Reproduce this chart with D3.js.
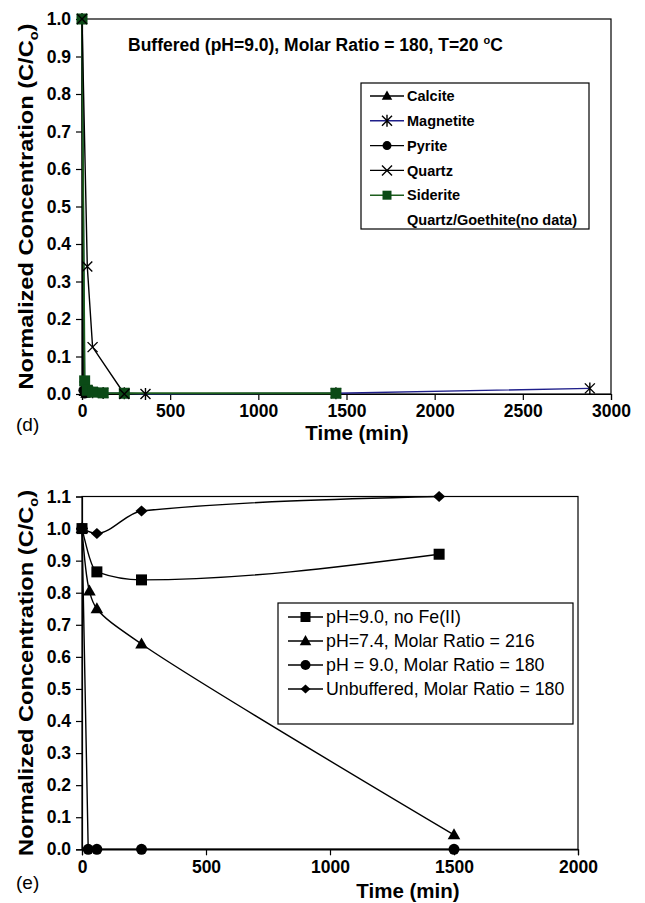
<!DOCTYPE html>
<html><head><meta charset="utf-8">
<script src="https://cdn.jsdelivr.net/npm/d3@7"></script>
<style>
html,body{margin:0;padding:0;background:#fff;}
svg{display:block;font-family:"Liberation Sans",Arial,sans-serif;}
</style></head>
<body>
<svg id="chart" width="645" height="903"></svg>
<script>
// ---------- Panel (d) data ----------
const dTimeCalcite   = [0, 10, 20];
const dCalcite       = [1.0, 0.005, 0.0];
const dTimeMagnetite = [0, 15, 30, 60, 120, 240, 360, 1440, 2880];
const dMagnetite     = [1.0, 0.02, 0.01, 0.005, 0.003, 0.002, 0.0, 0.002, 0.015];
const dTimePyrite    = [0, 5, 15];
const dPyrite        = [1.0, 0.01, 0.0];
const dTimeQuartz    = [0, 30, 60, 240];
const dQuartz        = [1.0, 0.34, 0.125, 0.0];
const dTimeSiderite  = [0, 15, 30, 60, 120, 240, 1440];
const dSiderite      = [1.0, 0.035, 0.01, 0.005, 0.003, 0.002, 0.002];
const dLegendLabels  = ["Calcite", "Magnetite", "Pyrite", "Quartz", "Siderite", "Quartz/Goethite(no data)"];
const dXTicks = [0, 500, 1000, 1500, 2000, 2500, 3000];
const dYTicks = [0, 0.1, 0.2, 0.3, 0.4, 0.5, 0.6, 0.7, 0.8, 0.9, 1.0];

// ---------- Panel (e) data ----------
const eTimeNoFe   = [0, 60, 240, 1440];
const eNoFe       = [1.0, 0.865, 0.84, 0.92];
const eTimePH74   = [0, 30, 60, 240, 1500];
const ePH74       = [1.0, 0.805, 0.75, 0.64, 0.045];
const eTimePH90   = [0, 25, 60, 240, 1500];
const ePH90       = [1.0, 0.0, 0.0, 0.0, 0.0];
const eTimeUnbuf  = [0, 60, 240, 1440];
const eUnbuf      = [1.0, 0.985, 1.055, 1.1];
const eLegendLabels = ["pH=9.0, no Fe(II)", "pH=7.4, Molar Ratio = 216", "pH = 9.0, Molar Ratio = 180", "Unbuffered, Molar Ratio = 180"];
const eXTicks = [0, 500, 1000, 1500, 2000];
const eYTicks = [0, 0.1, 0.2, 0.3, 0.4, 0.5, 0.6, 0.7, 0.8, 0.9, 1.0, 1.1];

const svg = d3.select("#chart");
const zip = (t, v) => t.map((x, i) => ({t: x, v: v[i]}));

// marker path generators
const mk = {
  square: s => `M${-s},${-s}H${s}V${s}H${-s}Z`,
  triangle: s => `M0,${-s*1.1}L${s*1.05},${s*0.75}L${-s*1.05},${s*0.75}Z`,
  circle: s => d3.symbol(d3.symbolCircle, Math.PI*s*s)(),
  diamond: s => `M0,${-s}L${s*1.1},0L0,${s}L${-s*1.1},0Z`,
  xmark: s => `M${-s},${-s}L${s},${s}M${-s},${s}L${s},${-s}`,
  star: s => `M${-s},${-s}L${s},${s}M${-s},${s}L${s},${-s}M0,${-s*1.2}V${s*1.2}`
};

function drawMarker(g, type, size, fill, stroke) {
  const open = (type === "xmark" || type === "star");
  return g.append("path").attr("d", mk[type](size))
    .attr("fill", open ? "none" : fill)
    .attr("stroke", open ? stroke : "none")
    .attr("stroke-width", open ? 1.4 : 0);
}

function panel(cfg) {
  const g = svg.append("g");
  const x = d3.scaleLinear().domain(cfg.xDomain).range([cfg.left, cfg.right]);
  const y = d3.scaleLinear().domain(cfg.yDomain).range([cfg.bottom, cfg.top]);

  g.append("rect").attr("x", cfg.left).attr("y", cfg.top)
    .attr("width", cfg.right - cfg.left).attr("height", cfg.bottom - cfg.top)
    .attr("fill", "none").attr("stroke", "#000").attr("stroke-width", 1.2);

  const xa = g.append("g").attr("transform", `translate(0,${cfg.bottom})`)
    .call(d3.axisBottom(x).tickValues(cfg.xTicks).tickFormat(d3.format("d")).tickSize(6).tickPadding(5));
  const ya = g.append("g").attr("transform", `translate(${cfg.left},0)`)
    .call(d3.axisLeft(y).tickValues(cfg.yTicks).tickFormat(d3.format(".1f")).tickSize(6).tickPadding(5));
  [xa, ya].forEach(a => {
    a.select(".domain").attr("stroke", "#000").attr("stroke-width", 1.2);
    a.selectAll(".tick line").attr("stroke", "#000").attr("stroke-width", 1.2);
    a.selectAll(".tick text").attr("fill", "#000").attr("font-size", 17.5)
      .attr("font-weight", "bold").attr("font-family", "Liberation Sans, Arial, sans-serif");
  });

  cfg.series.forEach(s => {
    const line = d3.line().x(d => x(d.t)).y(d => y(d.v)).curve(s.curve || d3.curveLinear);
    g.append("path").datum(s.data).attr("d", line)
      .attr("fill", "none").attr("stroke", s.lineColor).attr("stroke-width", s.lineWidth || 1.4);
  });
  cfg.series.forEach(s => {
    s.data.forEach(d => {
      drawMarker(g, s.marker, s.size, s.fill, s.markerStroke || "#000")
        .attr("transform", `translate(${x(d.t)},${y(d.v)})`);
    });
  });

  const yl = g.append("text")
    .attr("transform", `translate(${cfg.yLabelX},${(cfg.top + cfg.bottom) / 2}) rotate(-90)`)
    .attr("text-anchor", "middle").attr("font-size", 19.5).attr("font-weight", "bold")
    .attr("textLength", 366).attr("lengthAdjust", "spacingAndGlyphs");
  yl.append("tspan").text("Normalized Concentration (C/C");
  yl.append("tspan").text("o").attr("font-size", 12).attr("dy", 5);
  yl.append("tspan").text(")").attr("dy", -5);

  g.append("text").attr("x", cfg.xLabelX).attr("y", cfg.xLabelY)
    .attr("text-anchor", "middle").attr("font-size", 20.5).attr("font-weight", "bold")
    .text("Time (min)");
  g.append("text").attr("x", 16).attr("y", cfg.letterY)
    .attr("font-size", 19).text(cfg.letter);

  const L = cfg.legend;
  g.append("rect").attr("x", L.x).attr("y", L.y).attr("width", L.w).attr("height", L.h)
    .attr("fill", "#fff").attr("stroke", "#000").attr("stroke-width", 1.2);
  L.items.forEach((it, i) => {
    const cy = L.firstY + i * L.step;
    if (it.series) {
      g.append("line").attr("x1", L.symX0).attr("x2", L.symX1).attr("y1", cy).attr("y2", cy)
        .attr("stroke", it.series.lineColor).attr("stroke-width", 1.4);
      drawMarker(g, it.series.marker, it.series.legendSize || it.series.size, it.series.fill, it.series.markerStroke || "#000")
        .attr("transform", `translate(${(L.symX0 + L.symX1) / 2},${cy})`);
    }
    g.append("text").attr("x", L.textX).attr("y", cy).attr("dy", "0.36em")
      .attr("font-size", L.fontSize).attr("font-weight", L.weight).text(it.label);
  });
  return g;
}

// ---------- Panel (d) ----------
const sCalcite   = {data: zip(dTimeCalcite, dCalcite), marker: "triangle", size: 5, fill: "#000", lineColor: "#000"};
const sMagnetite = {data: zip(dTimeMagnetite, dMagnetite), marker: "star", size: 5, fill: "#000", lineColor: "#1f1f8a", markerStroke: "#000"};
const sPyrite    = {data: zip(dTimePyrite, dPyrite), marker: "circle", size: 4.5, fill: "#000", lineColor: "#000"};
const sSiderite  = {data: zip(dTimeSiderite, dSiderite), marker: "square", size: 5.5, legendSize: 4.5, fill: "#0b4a16", lineColor: "#1d5e1d", lineWidth: 1.8};
const sQuartz    = {data: zip(dTimeQuartz, dQuartz), marker: "xmark", size: 5, fill: "none", lineColor: "#000", markerStroke: "#000"};

panel({
  left: 82, right: 611, top: 19, bottom: 394,
  xDomain: [0, 3000], yDomain: [0, 1.0],
  xTicks: dXTicks, yTicks: dYTicks,
  series: [sCalcite, sMagnetite, sPyrite, sSiderite, sQuartz],
  yLabelX: 33, xLabelX: 357, xLabelY: 440, letter: "(d)", letterY: 431,
  legend: {x: 361, y: 83, w: 228, h: 146, firstY: 96, step: 24.8, symX0: 370, symX1: 404, textX: 407,
    fontSize: 14.5, weight: "bold",
    items: [
      {label: dLegendLabels[0], series: sCalcite},
      {label: dLegendLabels[1], series: sMagnetite},
      {label: dLegendLabels[2], series: sPyrite},
      {label: dLegendLabels[3], series: sQuartz},
      {label: dLegendLabels[4], series: sSiderite},
      {label: dLegendLabels[5]}
    ]}
});

const title = svg.append("text").attr("x", 128).attr("y", 51)
  .attr("font-size", 17.5).attr("font-weight", "bold");
title.append("tspan").text("Buffered (pH=9.0), Molar Ratio = 180, T=20 ");
title.append("tspan").text("o").attr("font-size", 11).attr("dy", -7);
title.append("tspan").text("C").attr("dy", 7);

// ---------- Panel (e) ----------
const sNoFe  = {data: zip(eTimeNoFe, eNoFe), marker: "square", size: 5.5, legendSize: 5, fill: "#000", lineColor: "#000", curve: d3.curveMonotoneX};
const sPH74  = {data: zip(eTimePH74, ePH74), marker: "triangle", size: 6, legendSize: 5.5, fill: "#000", lineColor: "#000", curve: d3.curveCatmullRom};
const sPH90  = {data: zip(eTimePH90, ePH90), marker: "circle", size: 5.5, legendSize: 5, fill: "#000", lineColor: "#000"};
const sUnbuf = {data: zip(eTimeUnbuf, eUnbuf), marker: "diamond", size: 5.5, legendSize: 4.5, fill: "#000", lineColor: "#000", curve: d3.curveMonotoneX};

panel({
  left: 82, right: 578, top: 496.5, bottom: 849.3,
  xDomain: [0, 2000], yDomain: [0, 1.1],
  xTicks: eXTicks, yTicks: eYTicks,
  series: [sNoFe, sPH74, sPH90, sUnbuf],
  yLabelX: 33, xLabelX: 408, xLabelY: 898, letter: "(e)", letterY: 889,
  legend: {x: 278, y: 603, w: 295, h: 121, firstY: 617, step: 24, symX0: 288, symX1: 323, textX: 326,
    fontSize: 17.8, weight: "normal",
    items: [
      {label: eLegendLabels[0], series: sNoFe},
      {label: eLegendLabels[1], series: sPH74},
      {label: eLegendLabels[2], series: sPH90},
      {label: eLegendLabels[3], series: sUnbuf}
    ]}
});
</script>
</body></html>
